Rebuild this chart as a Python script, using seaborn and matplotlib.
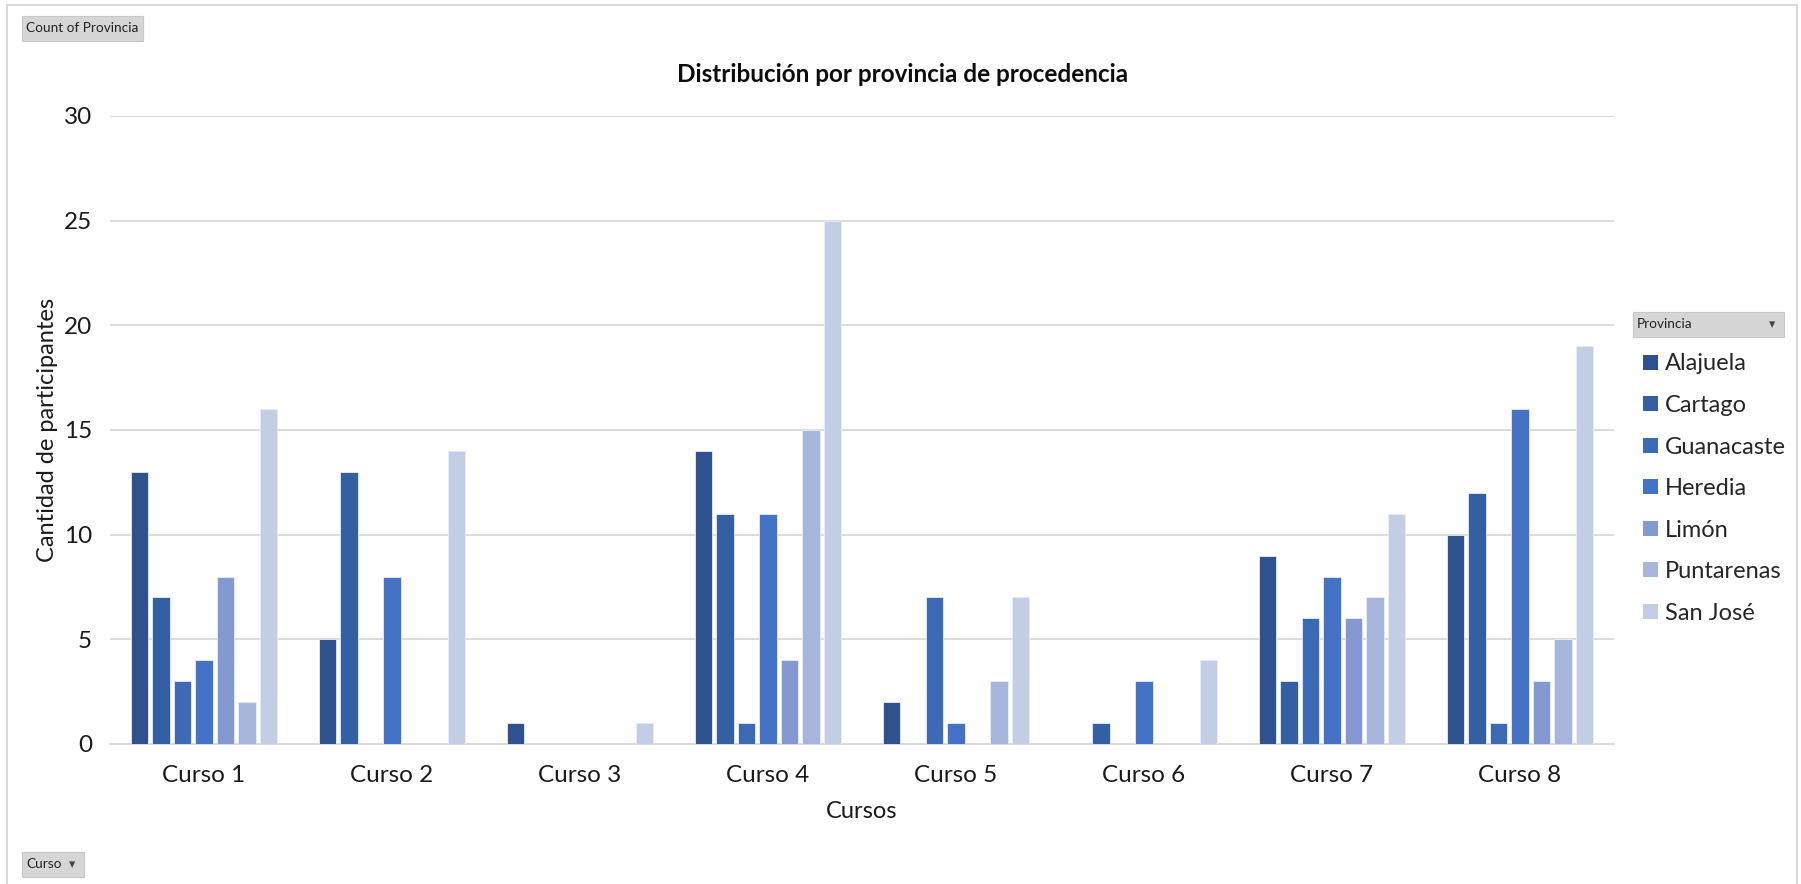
import matplotlib
matplotlib.use("Agg")
import matplotlib.pyplot as plt
import matplotlib.patches as mpatches
import seaborn as sns
import pandas as pd

cursos = ["Curso 1", "Curso 2", "Curso 3", "Curso 4", "Curso 5", "Curso 6", "Curso 7", "Curso 8"]
provincias = ["Alajuela", "Cartago", "Guanacaste", "Heredia", "Limón", "Puntarenas", "San José"]
colores = ["#2F528F", "#355FA3", "#3D6AB5", "#4472C4", "#8499D0", "#A9B6DB", "#C3CDE6"]

# conteo por provincia, un valor por curso
alajuela = [13, 5, 1, 14, 2, 0, 9, 10]
cartago = [7, 13, 0, 11, 0, 1, 3, 12]
guanacaste = [3, 0, 0, 1, 7, 0, 6, 1]
heredia = [4, 8, 0, 11, 1, 3, 8, 16]
limon = [8, 0, 0, 4, 0, 0, 6, 3]
puntarenas = [2, 0, 0, 15, 3, 0, 7, 5]
san_jose = [16, 14, 1, 25, 7, 4, 11, 19]

valores = [alajuela, cartago, guanacaste, heredia, limon, puntarenas, san_jose]
filas = []
for prov, serie in zip(provincias, valores):
    for curso, v in zip(cursos, serie):
        if v > 0:
            filas.append({"Curso": curso, "Provincia": prov, "Cantidad": v})
dt = pd.DataFrame(filas)

sns.set_style("white")
plt.rcParams['font.family'] = ['Lato', 'DejaVu Sans']

fig = plt.figure(figsize=(18.01, 8.84), dpi=100)
ax = fig.add_axes([110 / 1801, 1 - 744 / 884, (1614 - 110) / 1801, (744 - 116) / 884])

sns.barplot(data=dt, x="Curso", y="Cantidad", hue="Provincia", order=cursos,
            hue_order=provincias, palette=colores, saturation=1, gap=0.18, width=0.8,
            edgecolor="#E8ECF6", linewidth=0.6, ax=ax, legend=False, zorder=3)

ax.set_ylim(0, 30)
ax.set_xlim(-0.5, 7.5)
ax.set_yticks(range(0, 31, 5))
ax.yaxis.grid(True, color="#D9D9D9", linewidth=1.3, zorder=0)
ax.set_axisbelow(True)
for s in ["top", "right", "left"]:
    ax.spines[s].set_visible(False)
ax.spines["bottom"].set_color("#D9D9D9")
ax.spines["bottom"].set_linewidth(1.3)
ax.tick_params(axis="both", which="major", length=0, labelsize=17.5, labelcolor="#1a1a1a")
ax.tick_params(axis="x", pad=15)
ax.tick_params(axis="y", pad=13)
ax.set_xticks([i - 0.5 for i in range(9)], minor=True)
ax.tick_params(axis="x", which="minor", length=8, width=1.3, color="#D9D9D9")
ax.set_xlabel("Cursos", fontsize=17, labelpad=11, color="#1a1a1a")
ax.set_ylabel("Cantidad de participantes", fontsize=17, labelpad=4, color="#1a1a1a")

fig.text(0.501, 1 - 75 / 884, "Distribución por provincia de procedencia", ha="center", va="center",
         fontsize=17.5, fontweight="bold", color="#0d0d0d")

# leyenda
handles = [mpatches.Patch(facecolor=c, edgecolor="none") for c in colores]
fig.legend(handles, provincias, loc="upper left", bbox_to_anchor=(1634 / 1801, 1 - 344 / 884),
           frameon=False, fontsize=17, handlelength=0.6, handleheight=0.6,
           handletextpad=0.3, labelspacing=0.87, borderaxespad=0)

# botones del pivot chart
def boton(x0, y0, w, h, texto, flecha=False):
    fig.patches.append(mpatches.Rectangle((x0 / 1801, 1 - (y0 + h) / 884), w / 1801, h / 884,
                                          transform=fig.transFigure, facecolor="#D6D6D6",
                                          edgecolor="#C8C8C8", linewidth=0.8))
    fig.text((x0 + 4) / 1801, 1 - (y0 + h / 2) / 884, texto, ha="left", va="center",
             fontsize=9.8, color="#222222")
    if flecha:
        fig.text((x0 + w - 12) / 1801, 1 - (y0 + h / 2) / 884, "▾", ha="center", va="center",
                 fontsize=9, color="#444444", family="DejaVu Sans")

boton(22, 16, 121, 25, "Count of Provincia")
boton(1633, 312, 151, 25, "Provincia", flecha=True)
boton(22, 852, 62, 25, "Curso", flecha=True)

# borde del area del grafico
fig.patches.append(mpatches.Rectangle((7 / 1801, -0.01), (1797 - 7) / 1801, 1 - 5 / 884 + 0.01,
                                      transform=fig.transFigure, facecolor="none",
                                      edgecolor="#D9D9D9", linewidth=1.5))

plt.savefig("out.png", dpi=100)
